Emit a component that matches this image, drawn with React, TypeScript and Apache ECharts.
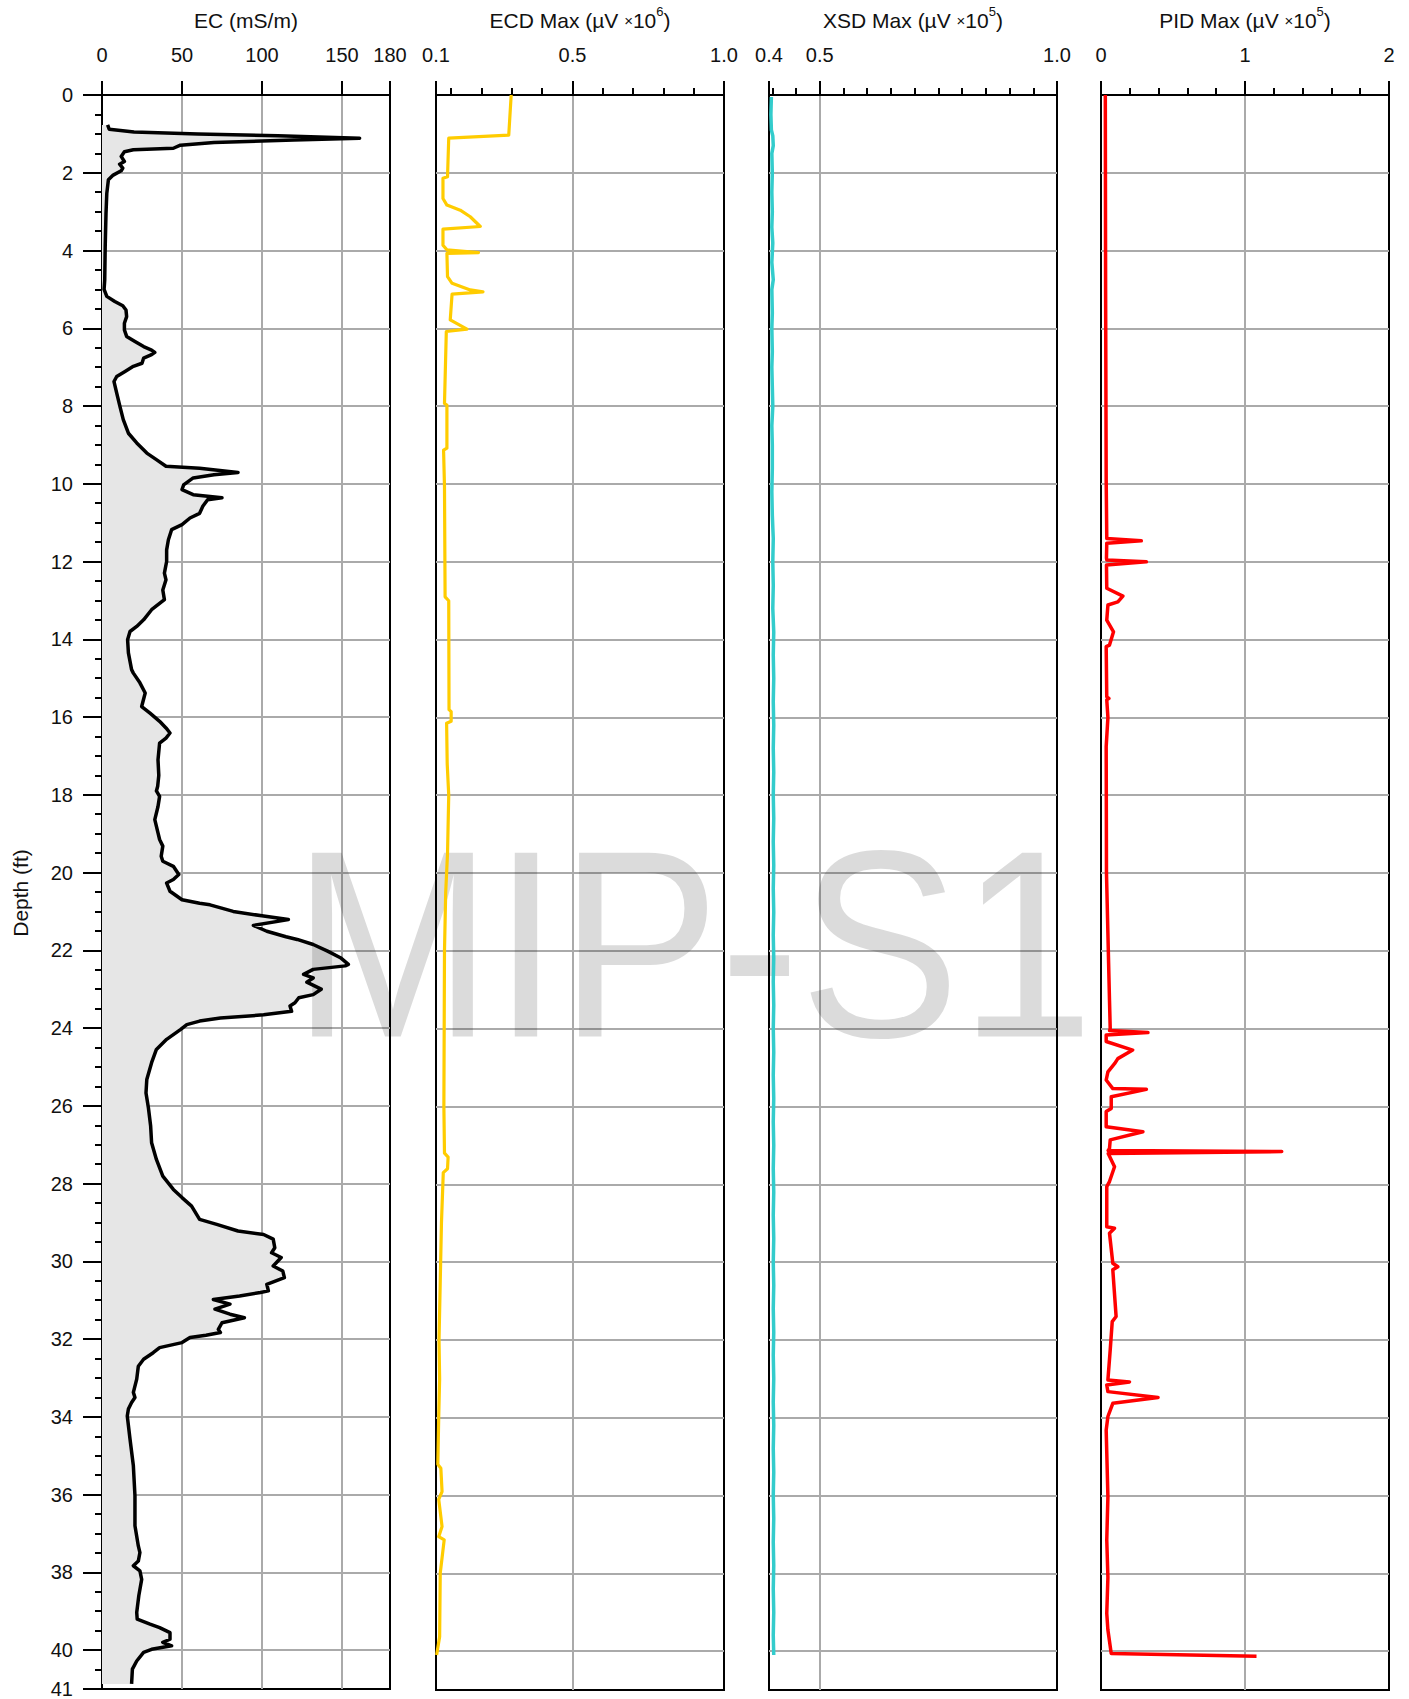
import React, { useEffect, useRef } from 'react';
import * as echarts from 'echarts';

// ---------------- data ----------------
// EC profile: [depth ft, EC mS/m]
const EC_PROFILE: number[][] = [
  [0.77, 3.5], [0.88, 4.5], [0.95, 20], [1.0, 60], [1.05, 110], [1.11, 161], [1.16, 120], [1.22, 70],
  [1.29, 49], [1.37, 44.6], [1.41, 19.6], [1.46, 14], [1.58, 12], [1.71, 14], [1.78, 11], [1.88, 13],
  [1.95, 12], [2.06, 7], [2.18, 4], [2.53, 3], [3.05, 2.5], [3.9, 2], [4.76, 1.7], [5.0, 1.3],
  [5.18, 3], [5.31, 8], [5.42, 13], [5.53, 15], [5.7, 15.4], [5.87, 14], [6.04, 14], [6.21, 15.4],
  [6.34, 20.6], [6.47, 26], [6.56, 31], [6.62, 33], [6.68, 31], [6.77, 26], [6.9, 25], [6.98, 19.6],
  [7.11, 14.4], [7.24, 9.2], [7.37, 7.5], [7.67, 9.2], [8.01, 11.2], [8.35, 13.3], [8.7, 16.5],
  [8.95, 21.7], [9.21, 28], [9.38, 34], [9.55, 40], [9.6, 61], [9.71, 85], [9.77, 70], [9.85, 57],
  [10.03, 51], [10.15, 50], [10.28, 57], [10.36, 75], [10.41, 66], [10.58, 63], [10.76, 61],
  [10.88, 55], [11.05, 50], [11.18, 43.5], [11.44, 41.5], [11.7, 40.4], [12.0, 40.4], [12.3, 39],
  [12.47, 40], [12.73, 38], [12.98, 39], [13.24, 31], [13.5, 26], [13.67, 21.7], [13.8, 17.5],
  [14.01, 16], [14.35, 16.5], [14.78, 18.5], [14.87, 19.6], [15.12, 23.7], [15.38, 27], [15.73, 24.8],
  [15.9, 30], [16.11, 36], [16.28, 40], [16.41, 42.5], [16.54, 40], [16.67, 36], [17.1, 35],
  [17.5, 35.5], [17.78, 34.8], [17.9, 34], [18.04, 36], [18.3, 35], [18.64, 33], [18.98, 35],
  [19.15, 36], [19.32, 38], [19.58, 37], [19.71, 38], [19.84, 44.6], [20.05, 48], [20.18, 44.6],
  [20.27, 40.4], [20.48, 42.5], [20.7, 50], [20.79, 61], [20.83, 67.5], [21.0, 82], [21.12, 101],
  [21.21, 116.5], [21.36, 94.6], [21.51, 103], [21.65, 115], [21.72, 122], [21.85, 132], [22.02, 141],
  [22.19, 149], [22.36, 154], [22.4, 152], [22.49, 132], [22.62, 126], [22.71, 132], [22.82, 128],
  [23.0, 137], [23.14, 132], [23.22, 123], [23.35, 120.6], [23.43, 117.5], [23.57, 118.5], [23.66, 101],
  [23.74, 74], [23.82, 61], [23.91, 53], [24.04, 49], [24.29, 40.4], [24.55, 34], [24.89, 31],
  [25.32, 28], [25.67, 27.5], [26.05, 29], [26.52, 30.4], [26.95, 31], [27.38, 34], [27.81, 38],
  [28.15, 44.6], [28.36, 50], [28.58, 56], [28.92, 61], [29.05, 71.7], [29.22, 85], [29.31, 101],
  [29.43, 107], [29.65, 108], [29.78, 106], [29.9, 112], [30.12, 107], [30.25, 113], [30.42, 114],
  [30.59, 103], [30.76, 104], [30.8, 99], [30.89, 86], [30.98, 69.6], [31.1, 80], [31.23, 70.6],
  [31.36, 80], [31.45, 89], [31.58, 75], [31.75, 72.7], [31.83, 74], [31.9, 65], [31.96, 55],
  [32.09, 50], [32.22, 36], [32.35, 32], [32.52, 26], [32.7, 22.7], [33.03, 21.7], [33.37, 19.6],
  [33.5, 20.6], [33.63, 18.5], [33.8, 16.5], [33.98, 15.8], [34.57, 17.5], [35.26, 19.6], [36.03, 20.6],
  [36.8, 20.6], [37.32, 22.7], [37.49, 23.7], [37.71, 22.7], [37.83, 19.6], [37.96, 23.7], [38.18, 24.8],
  [38.6, 23], [39.03, 21.7], [39.2, 22], [39.33, 30], [39.42, 36], [39.55, 42.5], [39.72, 42.5],
  [39.8, 38], [39.89, 43.5], [39.98, 31], [40.06, 26], [40.28, 21.7], [40.49, 19], [40.87, 18.5],
];

// ECD Max profile: [depth ft, µV x10^6]
const ECD_PROFILE: number[][] = [
  [0.0, 0.298], [1.03, 0.29], [1.11, 0.092], [2.1, 0.088], [2.14, 0.073], [2.66, 0.073], [2.83, 0.086],
  [2.96, 0.13], [3.13, 0.163], [3.38, 0.196], [3.45, 0.073], [3.86, 0.073], [3.98, 0.086], [4.05, 0.19],
  [4.07, 0.086], [4.67, 0.088], [4.84, 0.103], [5.01, 0.163], [5.06, 0.205], [5.12, 0.103], [5.78, 0.097],
  [6.02, 0.152], [6.08, 0.084], [7.93, 0.078], [7.97, 0.086], [9.08, 0.086], [9.13, 0.075], [10.07, 0.078],
  [12.9, 0.08], [13.0, 0.092], [15.8, 0.093], [15.85, 0.1], [16.1, 0.1], [16.15, 0.085], [17.2, 0.087],
  [18.0, 0.092], [19.5, 0.088], [20.5, 0.082], [22.0, 0.078], [24.0, 0.077], [26.0, 0.076], [27.2, 0.078],
  [27.3, 0.09], [27.6, 0.088], [27.7, 0.074], [29.0, 0.068], [30.5, 0.064], [32.0, 0.06], [33.0, 0.062],
  [33.98, 0.059], [35.2, 0.056], [35.3, 0.066], [35.9, 0.07], [36.1, 0.059], [36.8, 0.07], [37.06, 0.059],
  [37.14, 0.077], [38.0, 0.064], [39.63, 0.062], [40.1, 0.052],
];

// XSD Max profile: [depth ft, µV x10^5]
const XSD_PROFILE: number[][] = [
  [0.05, 0.398], [0.5, 0.397], [0.9, 0.398], [1.05, 0.401], [1.3, 0.402], [1.5, 0.399], [2.0, 0.400],
  [2.5, 0.399], [3.0, 0.400], [3.4, 0.399], [3.8, 0.401], [4.3, 0.399], [4.75, 0.402], [5.0, 0.399],
  [5.6, 0.400], [6.0, 0.399], [6.6, 0.400], [7.0, 0.399], [7.5, 0.400], [8.0, 0.401], [8.5, 0.399],
  [9.0, 0.400], [9.6, 0.400], [10.2, 0.399], [10.8, 0.400], [11.4, 0.402], [12.0, 0.401], [12.6, 0.402],
  [13.2, 0.401], [13.8, 0.403], [14.4, 0.402], [15.0, 0.403], [15.6, 0.402], [16.2, 0.403], [16.8, 0.402],
  [17.4, 0.403], [18.0, 0.402], [18.6, 0.403], [19.2, 0.402], [19.8, 0.403], [20.4, 0.402], [21.0, 0.403],
  [21.6, 0.402], [22.2, 0.403], [22.8, 0.402], [23.4, 0.403], [24.0, 0.402], [24.6, 0.403], [25.2, 0.402],
  [25.8, 0.403], [26.4, 0.402], [27.0, 0.403], [27.6, 0.402], [28.2, 0.403], [28.8, 0.402], [29.4, 0.403],
  [30.0, 0.402], [30.6, 0.403], [31.2, 0.402], [31.8, 0.403], [32.4, 0.402], [33.0, 0.403], [33.6, 0.402],
  [34.2, 0.403], [34.8, 0.402], [35.4, 0.403], [36.0, 0.402], [36.6, 0.403], [37.2, 0.402], [37.8, 0.403],
  [38.4, 0.402], [39.0, 0.403], [39.6, 0.402], [40.1, 0.403],
];

// PID Max profile: [depth ft, µV x10^5]
const PID_PROFILE: number[][] = [
  [0.0, 0.03], [5.0, 0.032], [9.9, 0.036], [11.35, 0.04], [11.4, 0.04], [11.46, 0.28], [11.52, 0.04],
  [11.9, 0.038], [11.95, 0.04], [12.0, 0.315], [12.08, 0.038], [12.68, 0.04], [12.88, 0.152], [13.03, 0.117],
  [13.11, 0.048], [13.5, 0.04], [13.8, 0.087], [14.14, 0.059], [14.18, 0.036], [15.47, 0.04], [15.51, 0.055],
  [15.55, 0.04], [16.0, 0.048], [16.75, 0.036], [20.0, 0.038], [23.27, 0.059], [24.0, 0.064], [24.05, 0.06],
  [24.1, 0.326], [24.16, 0.036], [24.33, 0.036], [24.55, 0.22], [24.77, 0.117], [24.9, 0.094], [25.11, 0.048],
  [25.32, 0.036], [25.54, 0.082], [25.56, 0.315], [25.75, 0.071], [26.05, 0.071], [26.13, 0.036],
  [26.52, 0.036], [26.65, 0.291], [26.86, 0.064], [27.08, 0.059], [27.13, 0.05], [27.16, 1.255], [27.21, 0.05],
  [27.55, 0.094], [27.93, 0.059], [28.06, 0.04], [29.09, 0.04], [29.13, 0.094], [29.26, 0.059], [30.03, 0.082],
  [30.12, 0.117], [30.2, 0.082], [31.4, 0.105], [31.53, 0.078], [32.26, 0.064], [33.03, 0.048], [33.08, 0.198],
  [33.16, 0.04], [33.33, 0.048], [33.48, 0.396], [33.63, 0.082], [33.97, 0.048], [34.32, 0.036], [36.03, 0.048],
  [37.14, 0.04], [38.1, 0.048], [39.03, 0.04], [39.46, 0.048], [40.06, 0.071], [40.13, 1.08],
];

// axis ticks / labels
const DEPTH_LABELS = [0, 2, 4, 6, 8, 10, 12, 14, 16, 18, 20, 22, 24, 26, 28, 30, 32, 34, 36, 38, 40, 41];

const EC_TICKS = [0, 50, 100, 150, 180];
const EC_TICK_LABELS = ['0', '50', '100', '150', '180'];
const EC_MINOR: number[] = [];

const ECD_TICKS = [0.05, 0.5, 1.0];
const ECD_TICK_LABELS = ['0.1', '0.5', '1.0'];
const ECD_MINOR = [0.1, 0.2, 0.3, 0.4, 0.6, 0.7, 0.8, 0.9];

const XSD_TICKS = [0.393, 0.5, 1.0];
const XSD_TICK_LABELS = ['0.4', '0.5', '1.0'];
const XSD_MINOR = [0.4, 0.45, 0.55, 0.6, 0.65, 0.7, 0.75, 0.8, 0.85, 0.9, 0.95];

const PID_TICKS = [0, 1, 2];
const PID_TICK_LABELS = ['0', '1', '2'];
const PID_MINOR = [0.2, 0.4, 0.6, 0.8, 1.2, 1.4, 1.6, 1.8];

// ---------------- layout / style ----------------
const FONT = "'Liberation Sans', Arial, Helvetica, sans-serif";
const TOP = 95;
const BOTTOM = 1690;
const PANEL_W = 288;
const GRID_COLOR = '#aaaaaa';

type Panel = {
  left: number;
  ticks: number[];
  labels: string[];
  minor: number[];
  title: string;
  profile: number[][];
  color: string;
  width: number;
};

const PANELS: Panel[] = [
  { left: 102, ticks: EC_TICKS, labels: EC_TICK_LABELS, minor: EC_MINOR, title: '{n|EC (mS/m)}', profile: EC_PROFILE, color: '#000000', width: 3.5 },
  { left: 436, ticks: ECD_TICKS, labels: ECD_TICK_LABELS, minor: ECD_MINOR, title: '{n|ECD Max (µV }{x|×}{n|10}{s|6}{n|)}', profile: ECD_PROFILE, color: '#ffcc00', width: 3.2 },
  { left: 769, ticks: XSD_TICKS, labels: XSD_TICK_LABELS, minor: XSD_MINOR, title: '{n|XSD Max (µV }{x|×}{n|10}{s|5}{n|)}', profile: XSD_PROFILE, color: '#33cccc', width: 3.5 },
  { left: 1101, ticks: PID_TICKS, labels: PID_TICK_LABELS, minor: PID_MINOR, title: '{n|PID Max (µV }{x|×}{n|10}{s|5}{n|)}', profile: PID_PROFILE, color: '#ff0000', width: 3.5 },
];

function buildOption() {
  const grid: any[] = [];
  const xAxis: any[] = [];
  const yAxis: any[] = [];
  const series: any[] = [];
  const graphic: any[] = [];

  PANELS.forEach((p, i) => {
    grid.push({
      left: p.left, top: TOP, width: PANEL_W, height: BOTTOM - TOP,
      show: true, borderColor: '#000', borderWidth: 2, backgroundColor: 'transparent',
    });
    const min = p.ticks[0];
    const max = p.ticks[p.ticks.length - 1];
    // major x axis
    xAxis.push({
      type: 'value', gridIndex: i, position: 'top', min, max,
      axisLine: { show: true, onZero: false, lineStyle: { color: '#000', width: 2 } },
      axisTick: { show: true, length: 14, customValues: p.ticks, lineStyle: { color: '#000', width: 2 } },
      axisLabel: {
        show: true, customValues: p.ticks, margin: 30, fontSize: 20, color: '#111', fontFamily: FONT,
        formatter: (v: number) => {
          let best = 0;
          p.ticks.forEach((t, k) => { if (Math.abs(t - v) < Math.abs(p.ticks[best] - v)) best = k; });
          return p.labels[best];
        },
      },
      splitLine: { show: true, showMinLine: false, showMaxLine: false, lineStyle: { color: GRID_COLOR, width: 2 } },
    });
    // minor x axis
    xAxis.push({
      type: 'value', gridIndex: i, position: 'top', min, max,
      show: p.minor.length > 0,
      axisLine: { show: false },
      axisTick: { show: p.minor.length > 0, length: 7, customValues: p.minor.length ? p.minor : [min], lineStyle: { color: '#000', width: 2 } },
      axisLabel: { show: false },
      splitLine: { show: false },
    });
    // y axis (depth)
    yAxis.push({
      type: 'value', gridIndex: i, position: 'left', inverse: true, min: 0, max: 41, interval: 2,
      axisLine: { show: i === 0, onZero: false, lineStyle: { color: '#000', width: 2 } },
      axisTick: { show: i === 0, length: 19, customValues: DEPTH_LABELS, lineStyle: { color: '#000', width: 2 } },
      axisLabel: { show: i === 0, customValues: DEPTH_LABELS, margin: 29, fontSize: 20, color: '#111', fontFamily: FONT },
      splitLine: { show: true, showMinLine: false, showMaxLine: false, lineStyle: { color: GRID_COLOR, width: 2 } },
    });
    // minor depth ticks
    yAxis.push({
      type: 'value', gridIndex: i, position: 'left', inverse: true, min: 0, max: 41, interval: 0.5,
      show: i === 0,
      axisLine: { show: false, onZero: false },
      axisTick: { show: i === 0, length: 7, lineStyle: { color: '#000', width: 2 } },
      axisLabel: { show: false },
      splitLine: { show: false },
    });

    const xIdx = i * 2;
    const yIdx = i * 2;
    if (i === 0) {
      series.push({
        type: 'custom',
        xAxisIndex: xIdx, yAxisIndex: yIdx,
        silent: true, z: 1,
        data: [[p.profile[0][1], p.profile[0][0]]],
        renderItem: (params: any, api: any) => {
          const prof = p.profile;
          const pts: number[][] = [];
          pts.push(api.coord([0, prof[0][0]]));
          prof.forEach((d) => pts.push(api.coord([d[1], d[0]])));
          pts.push(api.coord([0, prof[prof.length - 1][0]]));
          return { type: 'polygon', shape: { points: pts }, style: { fill: '#e6e6e6', stroke: 'none' } };
        },
      });
    }
    series.push({
      type: 'line',
      xAxisIndex: xIdx, yAxisIndex: yIdx,
      data: p.profile.map((d) => [d[1], d[0]]),
      showSymbol: false, symbol: 'none', silent: true, z: 3,
      lineStyle: { color: p.color, width: p.width, join: 'round' },
    });

    graphic.push({
      type: 'text', x: p.left + PANEL_W / 2, y: 20, z: 10,
      style: {
        text: p.title, align: 'center', verticalAlign: 'middle', textAlign: 'center', textVerticalAlign: 'middle',
        fill: '#111', fontFamily: FONT,
        rich: {
          n: { fontSize: 21, fontFamily: FONT, fill: '#111', lineHeight: 30, verticalAlign: 'middle' },
          x: { fontSize: 15, fontFamily: FONT, fill: '#111', lineHeight: 30, verticalAlign: 'middle' },
          s: { fontSize: 13, fontFamily: FONT, fill: '#111', lineHeight: 13, verticalAlign: 'top' },
        },
      },
    });
  });

  graphic.push({
    type: 'text', x: 20, y: 893, rotation: Math.PI / 2, z: 10,
    style: {
      text: 'Depth (ft)', fontSize: 21, fontFamily: FONT, fill: '#111',
      align: 'center', verticalAlign: 'middle', textAlign: 'center', textVerticalAlign: 'middle',
    },
  });
  graphic.push({
    type: 'text', x: 693, y: 944, z: 2, silent: true, scaleX: 0.9, scaleY: 1,
    style: {
      text: 'MIP-S1', fontSize: 267, fontFamily: FONT, fill: 'rgba(0,0,0,0.14)',
      align: 'center', verticalAlign: 'middle', textAlign: 'center', textVerticalAlign: 'middle',
    },
  });

  return {
    animation: false,
    backgroundColor: '#ffffff',
    textStyle: { fontFamily: FONT },
    grid, xAxis, yAxis, series, graphic,
  };
}

export default function App() {
  const ref = useRef<HTMLDivElement | null>(null);
  useEffect(() => {
    if (!ref.current) return;
    const chart = echarts.init(ref.current, undefined, { renderer: 'svg' });
    chart.setOption(buildOption() as any);
    return () => chart.dispose();
  }, []);
  return (
    <div
      ref={ref}
      style={{ position: 'absolute', left: 0, top: 0, width: 1409, height: 1699, background: '#fff' }}
    />
  );
}
